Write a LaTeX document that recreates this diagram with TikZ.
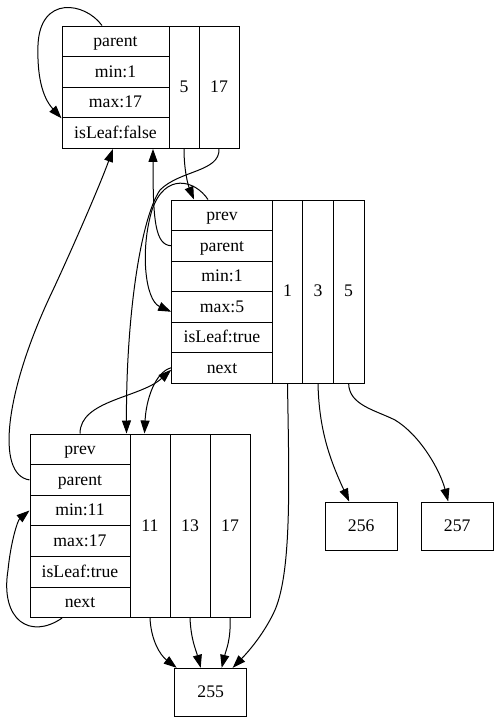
\documentclass[tikz,border=0pt]{standalone}
\usepackage{fontspec}
\setmainfont{Liberation Serif}
\usetikzlibrary{arrows.meta}
\begin{document}
\begin{tikzpicture}[x=1pt,y=-1pt,
  cell/.style={draw, line width=1pt, inner sep=0pt, text height=12.8pt, text depth=2pt,
    font=\fontsize{17.7}{20}\selectfont},
  field/.style={cell, minimum height=30.6pt},
  mfield/.style={cell, minimum height=30.5pt, minimum width=100.6pt},
  link/.style={line width=1pt, -{Triangle[length=13pt,width=9pt]}}]
\useasboundingbox (0,0) rectangle (499,724);

% internal node (root)
\node[field, minimum width=107pt] (Rparent) at (115.5,41.3)  {parent};
\node[field, minimum width=107pt] (Rmin)    at (115.5,71.9)  {min:1};
\node[field, minimum width=107pt] (Rmax)    at (115.5,102.5) {max:17};
\node[field, minimum width=107pt] (RisLeaf) at (115.5,133.1) {isLeaf:false};
\node[cell, minimum width=30pt, minimum height=122.4pt] (R5)  at (184,87.2) {5};
\node[cell, minimum width=40pt, minimum height=122.4pt] (R17) at (219,87.2) {17};

% first leaf
\node[mfield] (Mprev)   at (222,215.25) {prev};
\node[mfield] (Mparent) at (222,245.75) {parent};
\node[mfield] (Mmin)    at (222,276.25) {min:1};
\node[mfield] (Mmax)    at (222,306.75) {max:5};
\node[mfield] (MisLeaf) at (222,337.25) {isLeaf:true};
\node[mfield] (Mnext)   at (222,367.75) {next};
\node[cell, minimum width=30.4pt, minimum height=183pt] (M1) at (287.5,291.5) {1};
\node[cell, minimum width=30.6pt, minimum height=183pt] (M3) at (318,291.5) {3};
\node[cell, minimum width=30.7pt, minimum height=183pt] (M5) at (348.65,291.5) {5};

% second leaf
\node[field, minimum width=100pt] (Bprev)   at (80,449.3) {prev};
\node[field, minimum width=100pt] (Bparent) at (80,479.9) {parent};
\node[field, minimum width=100pt] (Bmin)    at (80,510.5) {min:11};
\node[field, minimum width=100pt] (Bmax)    at (80,541.1) {max:17};
\node[field, minimum width=100pt] (BisLeaf) at (80,571.7) {isLeaf:true};
\node[field, minimum width=100pt] (Bnext)   at (80,602.3) {next};
\node[cell, minimum width=40pt, minimum height=183.6pt] (B11) at (150,525.8) {11};
\node[cell, minimum width=40pt, minimum height=183.6pt] (B13) at (190,525.8) {13};
\node[cell, minimum width=40pt, minimum height=183.6pt] (B17) at (230,525.8) {17};

% records
\node[cell, minimum width=72pt, minimum height=48.4pt] (L255) at (210.7,692.5) {255};
\node[cell, minimum width=72.3pt, minimum height=48pt] (L256) at (361.2,526) {256};
\node[cell, minimum width=72.3pt, minimum height=48pt] (L257) at (457.2,526) {257};

% parent pointers
\draw[link] ([xshift=-13.5pt]Rparent.north) .. controls (85,2) and (40,-5) .. (38,45)
  .. controls (37,75) and (42,97) .. (Rmax.south west);
\draw[link] (Mparent.west) .. controls (155,245) and (153,220) .. ([xshift=37.5pt]RisLeaf.south);
\draw[link] (Bparent.west) .. controls (-5,475) and (5,390) .. (53,290)
  .. controls (73,247) and (100,185) .. ([xshift=-2.5pt]RisLeaf.south);

% child pointers
\draw[link] (R5.south) .. controls (184,170) and (188,185) .. ([xshift=-28pt]Mprev.north);
\draw[link] (R17.south) .. controls (220,172) and (180,170) .. (160,190)
  .. controls (140,220) and (126,320) .. ([xshift=-4pt]Bprev.north east);

% sibling pointers
\draw[link] ([xshift=-14pt]Mprev.north) .. controls (195,180) and (165,172) .. (152,210)
  .. controls (140,250) and (145,300) .. ([yshift=-5pt]Mmax.west);
\draw[link] (Bprev.north) .. controls (80,400) and (140,398) .. ([yshift=-2pt]Mnext.west);
\draw[link] (Mnext.west) .. controls (155,372) and (146,400) .. ([xshift=14pt]Bprev.north east);
\draw[link] ([xshift=-18pt]Bnext.south) .. controls (30,640) and (0,620) .. (8,570)
  .. controls (11,540) and (18,520) .. (Bmin.west);

% values to records
\draw[link] (M1.south) .. controls (289,480) and (292,570) .. (275,610)
  .. controls (265,632) and (250,650) .. ([xshift=22pt]L255.north);
\draw[link] (M3.south) .. controls (319,430) and (330,460) .. ([xshift=-12pt]L256.north);
\draw[link] (M5.south) .. controls (349,405) and (375,410) .. (395,420)
  .. controls (420,435) and (440,470) .. ([xshift=-9pt]L257.north);
\draw[link] (B11.south) .. controls (151,640) and (160,655) .. ([xshift=-34pt]L255.north);
\draw[link] (B13.south) .. controls (191,640) and (196,650) .. ([xshift=-10pt]L255.north);
\draw[link] (B17.south) .. controls (231,640) and (226,650) .. ([xshift=11pt]L255.north);
\end{tikzpicture}
\end{document}
